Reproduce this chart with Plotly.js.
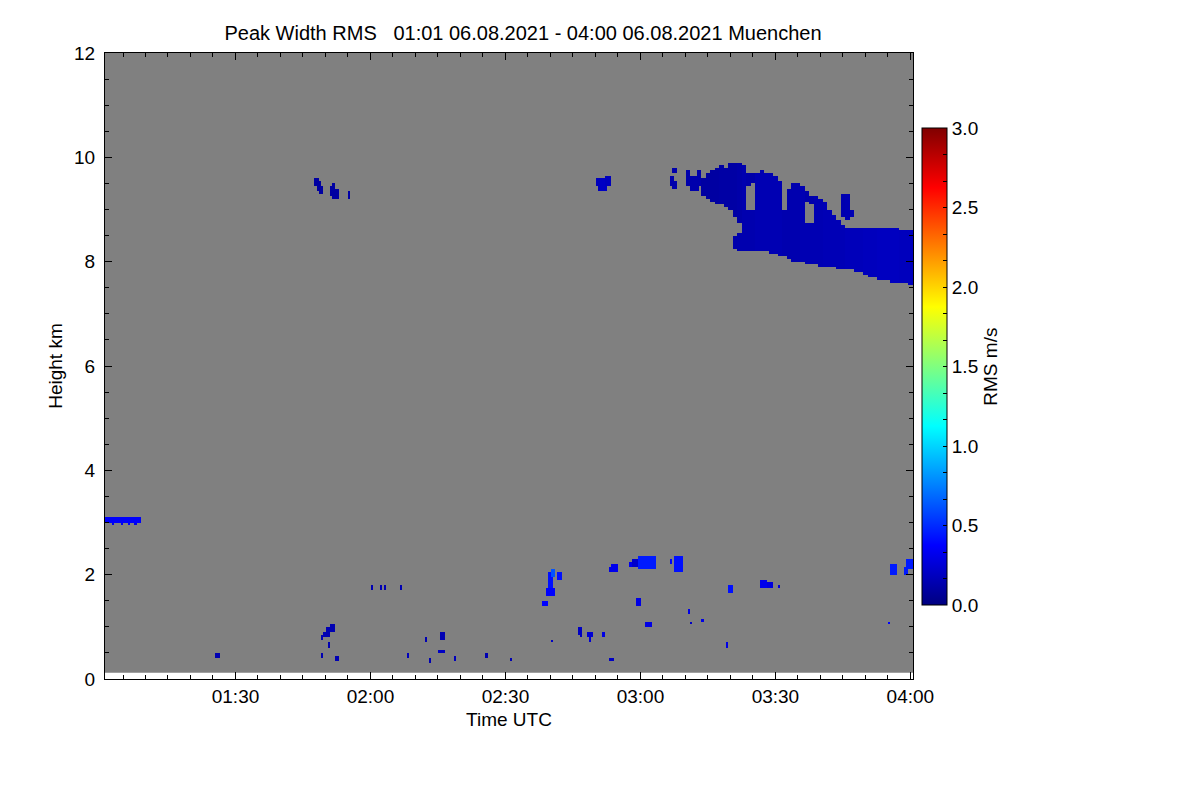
<!DOCTYPE html>
<html>
<head>
<meta charset="utf-8">
<script src="https://cdn.plot.ly/plotly-3.0.1.min.js"></script>
<style>html,body{margin:0;padding:0;background:#fff;}#chart{width:1200px;height:800px;}</style>
</head>
<body>
<div id="chart"></div>
<script>
// ---------------- DATA ----------------
var dateStr = '2021-08-06';
var titleText = 'Peak Width RMS\u00a0\u00a0\u00a001:01 06.08.2021 - 04:00 06.08.2021 Muenchen';
var timeStart = '01:01:00';
var timeEnd = '04:00:35';
var measuredBottom = 0.12;   // km, lowest range gate
var measuredTop = 12.0;      // km

// upper cloud, one-minute columns
var cloudTime = ['03:14','03:15','03:16','03:17','03:18','03:19','03:20','03:21','03:22','03:23',
                 '03:24','03:25','03:26','03:27','03:28','03:29','03:30','03:31','03:32','03:33',
                 '03:34','03:35','03:36','03:37','03:38','03:39','03:40','03:41','03:42','03:43',
                 '03:44','03:45','03:46','03:47','03:48','03:49','03:50','03:51','03:52','03:53',
                 '03:54','03:55','03:56','03:57','03:58','03:59','04:00'];
var lowerBase = [null,null,null,null,null,null,null,8.25,8.22,8.24,
                 8.24,8.24,8.22,8.22,8.20,8.18,8.17,8.14,8.12,8.07,
                 8.03,8.02,8.00,7.98,7.97,7.95,7.94,7.92,7.92,7.90,
                 7.89,7.88,7.87,7.86,7.82,7.80,7.77,7.74,7.72,7.69,
                 7.67,7.66,7.64,7.62,7.62,7.60,7.58];
var lowerTop  = [null,null,null,null,null,null,null,8.47,8.55,9.85,
                 8.96,8.96,9.70,9.72,9.70,9.68,9.65,9.55,8.97,9.40,
                 9.46,9.50,9.45,8.75,8.75,9.22,9.20,9.15,9.00,8.90,
                 8.80,8.70,8.63,8.61,8.61,8.62,8.62,8.61,8.63,8.63,
                 8.63,8.61,8.61,8.62,8.60,8.59,8.60];
var upperBase = [9.25,9.20,9.15,9.12,9.10,9.05,9.00,8.85,8.75,null,
                 9.46,9.50,null,null,null,null,null,null,null,null,
                 null,null,null,9.15,9.10,null,null,null,null,null,
                 null,8.88,8.84,8.86,null,null,null,null,null,null,
                 null,null,null,null,null,null,null];
var upperTop  = [9.60,9.66,9.72,9.78,9.83,9.80,9.86,9.88,9.88,null,
                 9.70,9.70,null,null,null,null,null,null,null,null,
                 null,null,null,9.35,9.22,null,null,null,null,null,
                 null,9.30,9.26,9.00,null,null,null,null,null,null,
                 null,null,null,null,null,null,null];
var cloudValue = [0.12,0.12,0.12,0.12,0.13,0.13,0.13,0.13,0.14,0.14,
                  0.14,0.14,0.15,0.15,0.15,0.15,0.15,0.15,0.14,0.14,
                  0.14,0.14,0.15,0.15,0.15,0.15,0.15,0.16,0.16,0.16,
                  0.16,0.16,0.17,0.17,0.17,0.17,0.18,0.18,0.18,0.19,
                  0.19,0.19,0.19,0.19,0.18,0.18,0.18];

// small echoes: start time, end time, bottom km, top km, RMS m/s
var patchStart = ['01:01:00','01:02:30','01:04:30','01:06:00','01:07:30',
  '01:47:53','01:48:20','01:48:50','01:51:00','01:51:30','01:52:00','01:55:00',
  '02:50:20','02:50:50','02:51:20','02:52:20',
  '03:06:47','03:07:20','03:07:20','03:10:20','03:11:00','03:12:47',
  '01:25:53','01:49:13','01:49:40','01:50:20','01:51:00','01:50:30','01:49:27','01:52:07',
  '02:00:20','02:02:07','02:03:13','02:06:33','02:08:07','02:12:20','02:12:20','02:13:13',
  '02:15:13','02:15:53','02:18:33','02:25:53','02:31:13',
  '02:39:53','02:40:00','02:39:13','02:41:40','02:38:07','02:40:20','02:46:20','02:46:47',
  '02:48:20','02:48:40','02:51:40','02:53:27','02:53:00','02:53:53',
  '02:57:40','02:58:07','02:59:53','03:06:47','03:07:53','02:59:27','03:01:27','03:10:33',
  '03:11:13','03:13:40','03:19:53','03:19:27','03:26:33','03:28:00','03:30:33',
  '03:55:00','03:55:53','03:58:33','03:59:20'];
var patchEnd = ['01:09:00','01:03:00','01:05:00','01:06:30','01:08:00',
  '01:48:20','01:48:50','01:49:27','01:51:30','01:52:00','01:52:33','01:55:00',
  '02:50:50','02:51:20','02:52:20','02:53:13',
  '03:07:20','03:08:00','03:07:40','03:11:00','03:12:33','03:13:30',
  '01:26:10','01:49:30','01:50:00','01:50:50','01:51:40','01:50:30','01:49:27','01:52:33',
  '02:00:20','02:02:07','02:03:13','02:06:33','02:08:20','02:12:20','02:12:20','02:13:13',
  '02:16:07','02:16:07','02:18:40','02:25:53','02:31:27',
  '02:40:20','02:40:33','02:40:33','02:42:07','02:39:13','02:40:20','02:46:47','02:46:47',
  '02:49:27','02:49:00','02:51:40','02:53:53','02:53:00','02:54:33',
  '02:58:07','02:59:53','03:03:13','03:06:47','03:09:27','02:59:40','03:02:20','03:10:33',
  '03:11:13','03:13:40','03:20:20','03:19:27','03:28:00','03:29:30','03:30:33',
  '03:55:00','03:57:00','03:59:20','04:00:35'];
var patchBottom = [3.00,2.95,2.95,2.95,2.96,
  9.45,9.36,9.31,9.27,9.24,9.22,9.23,
  9.45,9.38,9.35,9.46,
  9.48,9.41,9.70,9.45,9.36,9.45,
  0.43,0.76,0.82,0.80,0.92,0.64,0.43,0.37,
  1.74,1.74,1.74,1.74,0.41,0.70,0.76,0.34,
  0.51,0.79,0.39,0.44,0.35,
  1.71,1.96,1.60,1.92,1.43,0.70,0.89,0.83,
  0.80,0.72,0.83,0.35,2.08,2.08,
  2.17,2.17,2.10,2.23,2.06,1.44,1.02,1.29,
  1.06,1.10,1.67,0.64,1.78,1.75,1.75,
  1.06,2.04,2.04,2.10];
var patchTop = [3.09,3.00,3.00,3.00,3.00,
  9.60,9.52,9.42,9.44,9.50,9.36,9.31,
  9.60,9.56,9.58,9.64,
  9.62,9.52,9.76,9.75,9.62,9.72,
  0.47,0.82,0.90,0.98,1.04,0.68,0.47,0.44,
  1.78,1.78,1.78,1.78,0.46,0.74,0.79,0.37,
  0.55,0.89,0.43,0.46,0.39,
  2.04,2.08,1.75,2.04,1.48,0.74,0.99,0.86,
  0.89,0.80,0.86,0.39,2.11,2.19,
  2.22,2.27,2.34,2.27,2.33,1.52,1.08,1.33,
  1.08,1.14,1.79,0.70,1.90,1.85,1.79,
  1.10,2.19,2.14,2.29];
var patchValue = [0.36,0.32,0.32,0.36,0.32,
  0.10,0.10,0.10,0.10,0.10,0.10,0.12,
  0.18,0.18,0.20,0.18,
  0.13,0.13,0.13,0.13,0.13,0.13,
  0.15,0.15,0.15,0.15,0.15,0.15,0.15,0.15,
  0.15,0.15,0.15,0.15,0.18,0.15,0.15,0.15,
  0.20,0.15,0.18,0.15,0.15,
  0.42,0.62,0.38,0.42,0.38,0.20,0.20,0.20,
  0.25,0.25,0.30,0.20,0.30,0.32,
  0.32,0.22,0.45,0.38,0.42,0.30,0.30,0.30,
  0.20,0.30,0.42,0.30,0.32,0.28,0.28,
  0.38,0.45,0.45,0.45];

// ---------------- build heatmap grid ----------------
function toSec(s){var p=s.split(':').map(Number);return p[0]*3600+p[1]*60+(p[2]||0);}
function pad(n){return (n<10?'0':'')+n;}
function secToDate(sec){var h=Math.floor(sec/3600),m=Math.floor((sec%3600)/60),s=Math.round(sec%60);
  return dateStr+' '+pad(h)+':'+pad(m)+':'+pad(s);}

var T0 = toSec(timeStart), DT = 30, NX = 360, DH = 0.05, NY = 240;
var xs = [], ys = [], z = [];
for (var i=0;i<NX;i++) xs.push(secToDate(T0 + DT*(i+0.5)));
for (var j=0;j<NY;j++){ ys.push(+(DH*(j+0.5)).toFixed(3)); var row=[]; for (var k=0;k<NX;k++) row.push(null); z.push(row); }

function fill(s0, s1, b, t, v){
  var i0 = Math.floor((s0-T0)/DT), i1 = Math.max(i0, Math.ceil((s1-T0)/DT)-1);
  var j0 = Math.floor(b/DH+1e-9), j1 = Math.max(j0, Math.ceil(t/DH-1e-9)-1);
  for (var jj=Math.max(0,j0); jj<=Math.min(NY-1,j1); jj++)
    for (var ii=Math.max(0,i0); ii<=Math.min(NX-1,i1); ii++) z[jj][ii]=v;
}
cloudTime.forEach(function(tc, n){
  var c = toSec(tc+':00');
  if (lowerBase[n]!==null) fill(c-30, c+30, lowerBase[n], lowerTop[n], cloudValue[n]);
  if (upperBase[n]!==null) fill(c-30, c+30, upperBase[n], upperTop[n], cloudValue[n]-0.02);
});
patchStart.forEach(function(ps, n){
  fill(toSec(ps), toSec(patchEnd[n]), patchBottom[n], patchTop[n], patchValue[n]);
});

// ---------------- plot ----------------
var font = {family:'Liberation Sans, Arial, Helvetica, sans-serif', size:19, color:'#000'};
var titleFont = {family:'Liberation Sans, Arial, Helvetica, sans-serif', size:20, color:'#000'};
var cbTickVals = [], cbTickText = [];
for (var q=0;q<=18;q++){ var v=q/6; cbTickVals.push(v); cbTickText.push(q%3===0 ? v.toFixed(1) : ''); }

var trace = {
  type:'heatmap', x:xs, y:ys, z:z, zmin:0, zmax:3, zsmooth:false, hoverinfo:'skip',
  colorscale:[[0,'rgb(0,0,128)'],[0.125,'rgb(0,0,255)'],[0.375,'rgb(0,255,255)'],
              [0.625,'rgb(255,255,0)'],[0.875,'rgb(255,0,0)'],[1,'rgb(128,0,0)']],
  colorbar:{
    x:1.0111, xanchor:'left', xpad:0, y:0.499, yanchor:'middle', ypad:0,
    thickness:25, thicknessmode:'pixels', len:477, lenmode:'pixels',
    outlinecolor:'#000', outlinewidth:1,
    tickmode:'array', tickvals:cbTickVals, ticktext:cbTickText,
    ticks:'inside', ticklen:4, tickcolor:'#000', tickfont:font,
    title:{text:'RMS m/s', side:'right', font:font}
  }
};

var layout = {
  width:1200, height:800,
  margin:{l:105, r:287, t:53, b:121, pad:0},
  paper_bgcolor:'#fff', plot_bgcolor:'#fff',
  font:font,
  title:{text:titleText, font:titleFont, x:523/1200, xanchor:'center', xref:'container', y:1-33/800, yanchor:'middle', yref:'container'},
  xaxis:{
    type:'date', range:[dateStr+' '+timeStart, dateStr+' '+timeEnd],
    tick0:dateStr+' 00:00:00', dtick:1800000, tickformat:'%H:%M',
    ticks:'inside', ticklen:7, tickcolor:'#000', tickwidth:1,
    minor:{tick0:dateStr+' 00:00:00', dtick:300000, ticks:'inside', ticklen:4, tickcolor:'#000', showgrid:false},
    showline:true, linecolor:'#000', linewidth:1, mirror:'allticks',
    showgrid:false, zeroline:false, tickfont:font,
    title:{text:'Time UTC', font:font, standoff:6}
  },
  yaxis:{
    range:[0,12], dtick:2, tick0:0,
    ticks:'inside', ticklen:7, tickcolor:'#000', tickwidth:1,
    minor:{dtick:0.5, ticks:'inside', ticklen:4, tickcolor:'#000', showgrid:false},
    showline:true, linecolor:'#000', linewidth:1, mirror:'allticks',
    showgrid:false, zeroline:false, tickfont:font, ticklabelstandoff:5,
    title:{text:'Height km', font:font, standoff:6}
  },
  shapes:[{type:'rect', xref:'paper', x0:0, x1:1, yref:'y', y0:measuredBottom, y1:measuredTop,
           fillcolor:'#808080', line:{width:0}, layer:'below'}]
};

Plotly.newPlot('chart', [trace], layout, {staticPlot:true, displayModeBar:false});
</script>
</body>
</html>
